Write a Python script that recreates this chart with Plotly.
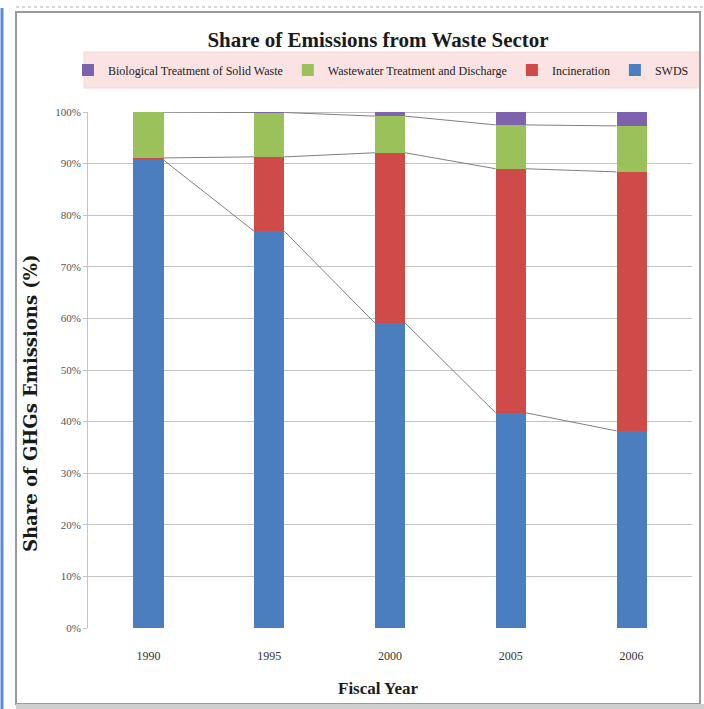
import plotly.graph_objects as go

# Share of GHG emissions in the waste sector, by fiscal year (%)
years = ["1990", "1995", "2000", "2005", "2006"]
swds = [90.7, 76.9, 59.1, 41.7, 38.2]
incineration = [0.4, 14.4, 33.0, 47.3, 50.2]
wastewater = [8.9, 8.6, 7.1, 8.5, 8.9]
biological = [0.0, 0.1, 0.8, 2.5, 2.7]

series = [
    ("SWDS", swds, "#4a7ebf"),
    ("Incineration", incineration, "#cf4b4a"),
    ("Wastewater Treatment and Discharge", wastewater, "#9bc25a"),
    ("Biological Treatment of Solid Waste", biological, "#7d62ad"),
]

W, H = 704, 709
ML, MR, MT, MB = 88, 12, 112, 81
PW, PH = W - ML - MR, H - MT - MB
BAR_W = 0.25
SERIF = "Liberation Serif, Times New Roman, serif"


def px_x(p):
    return (p - ML) / PW


def px_y(p):
    return (H - MB - p) / PH


xpos = list(range(len(years)))
fig = go.Figure()

for name, vals, color in series:
    fig.add_trace(go.Bar(
        x=xpos, y=vals, name=name, width=BAR_W,
        marker=dict(color=color, line=dict(width=0)),
    ))

# Series lines joining the top of each stacked segment between adjacent bars
cum = [0.0] * len(years)
lx, ly = [], []
for name, vals, color in series:
    cum = [c + v for c, v in zip(cum, vals)]
    for i in range(len(years) - 1):
        lx += [xpos[i] + BAR_W / 2, xpos[i + 1] - BAR_W / 2, None]
        ly += [cum[i], cum[i + 1], None]
fig.add_trace(go.Scatter(
    x=lx, y=ly, mode="lines", line=dict(color="#7f7f7f", width=1),
    showlegend=False, hoverinfo="skip",
))

shapes = [
    # legend band
    dict(type="rect", xref="paper", yref="paper", layer="below",
         x0=px_x(84), x1=px_x(700), y0=px_y(88), y1=px_y(52),
         fillcolor="#fbe3e3", line=dict(color="#f6d6d6", width=1)),
    # chart frame
    dict(type="rect", xref="paper", yref="paper", layer="below",
         x0=px_x(16), x1=px_x(700), y0=px_y(704), y1=px_y(12),
         fillcolor="rgba(0,0,0,0)", line=dict(color="#9a9a9a", width=2)),
    # bottom shadow
    dict(type="rect", xref="paper", yref="paper", layer="below",
         x0=px_x(16), x1=px_x(704), y0=px_y(709), y1=px_y(704),
         fillcolor="#cfcfcf", line=dict(width=0)),
    # dotted top rule
    dict(type="line", xref="paper", yref="paper",
         x0=px_x(16), x1=px_x(704), y0=px_y(7), y1=px_y(7),
         line=dict(color="#b0b0b0", width=1, dash="dot")),
    # blue page edge on the left
    dict(type="line", xref="paper", yref="paper",
         x0=px_x(2), x1=px_x(2), y0=px_y(709), y1=px_y(8),
         line=dict(color="#5b8ccf", width=3)),
]

annotations = [
    dict(text="<b>Share of GHGs Emissions (%)</b>", textangle=-90,
         xref="paper", yref="paper", x=px_x(30), y=px_y(404),
         xanchor="center", yanchor="middle", showarrow=False,
         font=dict(family="DejaVu Serif, serif", size=18, color="#1a1a1a")),
    dict(text="<b>Fiscal Year</b>", xref="paper", yref="paper",
         x=px_x(378), y=px_y(688), xanchor="center", yanchor="middle",
         showarrow=False, font=dict(family=SERIF, size=17, color="#1a1a1a")),
]

fig.update_layout(
    width=W, height=H,
    margin=dict(l=ML, r=MR, t=MT, b=MB, autoexpand=False),
    paper_bgcolor="white", plot_bgcolor="white",
    barmode="stack",
    title=dict(text="<b>Share of Emissions from Waste Sector</b>",
               x=378 / W, xanchor="center", y=1 - 40 / H, yanchor="middle",
               font=dict(family=SERIF, size=21, color="#1a1a1a")),
    legend=dict(orientation="h", traceorder="reversed",
                x=px_x(68), xanchor="left", y=px_y(70), yanchor="middle",
                bgcolor="rgba(0,0,0,0)", itemwidth=30,
                font=dict(family=SERIF, size=12, color="#222")),
    xaxis=dict(range=[-0.5, len(years) - 0.5], tickvals=xpos, ticktext=years,
               showgrid=False, zeroline=False, showline=False, ticks="",
               ticklabelstandoff=19,
               tickfont=dict(family=SERIF, size=12, color="#333")),
    yaxis=dict(range=[0, 100], dtick=10, ticksuffix="%",
               showgrid=True, gridcolor="#c4c4c4", gridwidth=1,
               zeroline=False, showline=True, linecolor="#c4c4c4",
               ticks="outside", ticklen=4, tickcolor="#c4c4c4",
               tickfont=dict(family=SERIF, size=11, color="#555")),
    shapes=shapes, annotations=annotations,
    bargap=0,
)

fig.write_html("out.html")
